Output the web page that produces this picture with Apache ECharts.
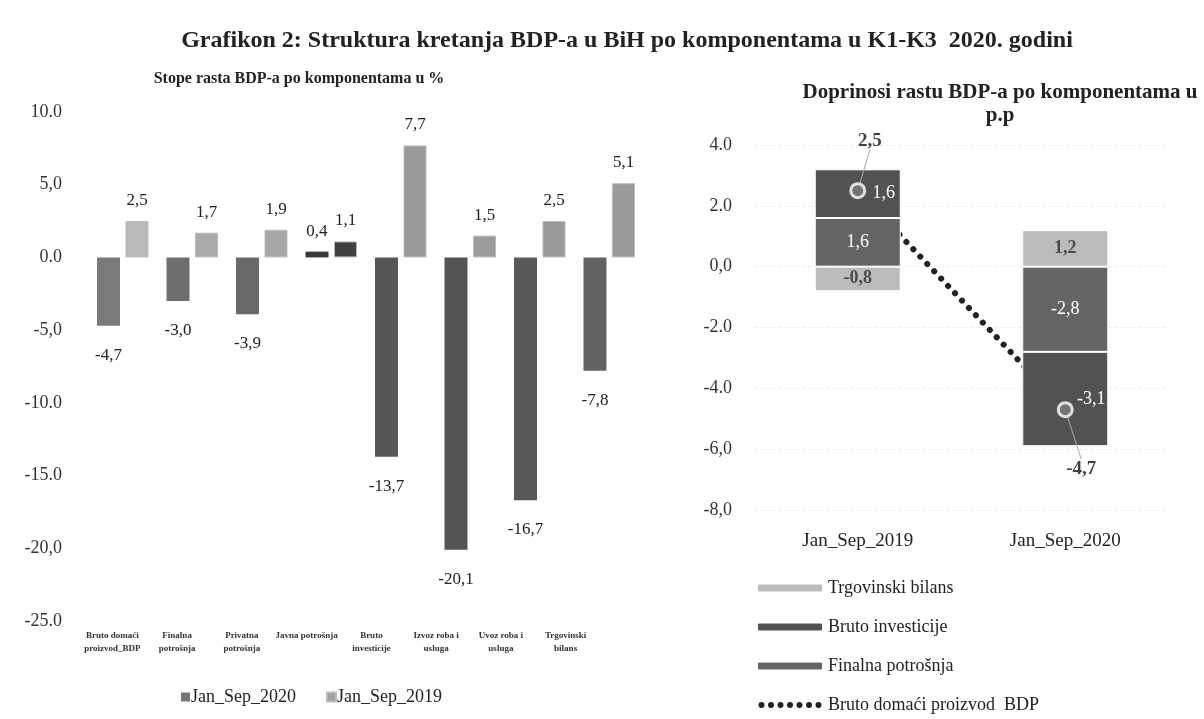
<!DOCTYPE html>
<html>
<head>
<meta charset="utf-8">
<title>Grafikon 2</title>
<script src="https://cdn.jsdelivr.net/npm/echarts@6/dist/echarts.min.js"></script>
<style>
	body{margin:0;background:#fff;}
	#chart{width:1204px;height:719px;}
</style>
</head>
<body>
<div id="chart"></div>
<script>
// lijevi grafikon - stope rasta u %
var categories = ['Bruto domaći\nproizvod_BDP', 'Finalna\npotrošnja', 'Privatna\npotrošnja', 'Javna potrošnja',
	'Bruto\ninvesticije', 'Izvoz roba i\nusluga', 'Uvoz roba i\nusluga', 'Trgovinski\nbilans'];
var growth2020 = [-4.7, -3.0, -3.9, 0.4, -13.7, -20.1, -16.7, -7.8];
var growth2019 = [2.5, 1.7, 1.9, 1.1, 7.7, 1.5, 2.5, 5.1];
var leftTicks = ['-25.0', '-20,0', '-15.0', '-10.0', '-5,0', '0.0', '5,0', '10.0'];

// desni grafikon - doprinosi rastu u p.p
var periods = ['Jan_Sep_2019', 'Jan_Sep_2020'];
var finalna = [1.6, -2.8];
var investicije = [1.6, -3.1];
var trgovinski = [-0.8, 1.2];
var bdp = [2.5, -4.7];
var rightTicks = ['-8,0', '-6,0', '-4.0', '-2.0', '0,0', '2.0', '4.0'];

var FONT = 'Liberation Serif';
var colors2020 = ['#7a7a7a', '#6e6e6e', '#686868', '#3a3a3a', '#575757', '#545454', '#585858', '#626262'];
var colors2019 = ['#b9b9b9', '#aaaaaa', '#a6a6a6', '#404040', '#9a9a9a', '#9c9c9c', '#9a9a9a', '#9a9a9a'];

function comma(v){
	return v.toFixed(1).replace('.', ',');
}

function barData(values, colors){
	var list = [];
	for (var i = 0; i < values.length; i++) {
		var neg = values[i] < 0;
		list.push({
			value: values[i],
			itemStyle: {color: colors[i]},
			label: {position: neg ? 'bottom' : 'top', distance: neg ? 21 : 12}
		});
	}
	return list;
}

// ikona legende: niz tacaka kao u originalu
function dotsIcon(){
	var p = 'path://M0,0M66,9';
	for (var k = 0; k < 7; k++) {
		var x = 1.5 + k * 9.5;
		p += 'M' + x + ',4.5a3,3 0 1,0 6,0a3,3 0 1,0 -6,0';
	}
	return p;
}

var chart = echarts.init(document.getElementById('chart'));

var barLabel = {
	show: true,
	fontFamily: FONT,
	fontSize: 17,
	color: '#222',
	formatter: function(p){ return comma(p.value); }
};

var option = {
	backgroundColor: '#ffffff',
	animation: false,
	title: [
		{
			text: 'Grafikon 2: Struktura kretanja BDP-a u BiH po komponentama u K1-K3  2020. godini',
			left: 622, textAlign: 'center', top: 24,
			textStyle: {fontFamily: FONT, fontSize: 24, fontWeight: 'bold', color: '#222'}
		},
		{
			text: 'Stope rasta BDP-a po komponentama u %',
			left: 294, textAlign: 'center', top: 66,
			textStyle: {fontFamily: FONT, fontSize: 16, fontWeight: 'bold', color: '#222'}
		},
		{
			text: 'Doprinosi rastu BDP-a po komponentama u\np.p',
			left: 995, textAlign: 'center', top: 76,
			textStyle: {fontFamily: FONT, fontSize: 21, fontWeight: 'bold', color: '#222', lineHeight: 23}
		}
	],
	legend: [
		{
			data: ['Jan_Sep_2020', 'Jan_Sep_2019'],
			left: 176, top: 683,
			icon: 'rect', itemWidth: 9, itemHeight: 9, itemGap: 30,
			textStyle: {fontFamily: FONT, fontSize: 18, color: '#222', padding: [0, 0, 0, -4]}
		},
		{
			data: [
				'Trgovinski bilans',
				'Bruto investicije',
				'Finalna potrošnja',
				{name: 'Bruto domaći proizvod  BDP', icon: dotsIcon()}
			],
			orient: 'vertical',
			left: 756, top: 579, padding: 0,
			itemWidth: 66, itemHeight: 9, itemGap: 21,
			textStyle: {fontFamily: FONT, fontSize: 18, color: '#222'}
		}
	],
	grid: [
		{left: 88, width: 556, top: 112, bottom: 98},
		{left: 754, width: 415, top: 145, bottom: 209},
		// samo za natpise kategorija
		{left: 80, width: 518, top: 112, bottom: 98}
	],
	xAxis: [
		{
			type: 'category', gridIndex: 0, data: categories,
			axisLine: {show: false, onZero: false}, axisTick: {show: false}, axisLabel: {show: false}
		},
		{
			type: 'category', gridIndex: 1, data: periods,
			axisLine: {show: false, onZero: false}, axisTick: {show: false},
			axisLabel: {fontFamily: FONT, fontSize: 19, color: '#222', margin: 22}
		},
		{
			type: 'category', gridIndex: 2, data: categories,
			axisLine: {show: false, onZero: false}, axisTick: {show: false},
			axisLabel: {fontFamily: FONT, fontSize: 9, fontWeight: 'bold', color: '#333', lineHeight: 13, margin: 8, interval: 0}
		}
	],
	yAxis: [
		{
			type: 'value', gridIndex: 0, min: -25, max: 10, interval: 5,
			splitLine: {show: false}, axisLine: {show: false}, axisTick: {show: false},
			axisLabel: {
				fontFamily: FONT, fontSize: 18, color: '#333', margin: 26,
				formatter: function(v){ return leftTicks[Math.round((v + 25) / 5)]; }
			}
		},
		{
			type: 'value', gridIndex: 1, min: -8, max: 4, interval: 2,
			splitLine: {show: true, lineStyle: {color: '#eeeeee', type: 'dashed'}},
			axisLine: {show: false}, axisTick: {show: false},
			axisLabel: {
				fontFamily: FONT, fontSize: 18, color: '#333', margin: 22,
				formatter: function(v){ return rightTicks[Math.round((v + 8) / 2)]; }
			}
		},
		{type: 'value', gridIndex: 2, show: false, min: -25, max: 10}
	],
	series: [
		{
			name: 'Jan_Sep_2020', type: 'bar', xAxisIndex: 0, yAxisIndex: 0,
			barWidth: 23, barGap: '24%',
			itemStyle: {color: '#777777'},
			label: barLabel,
			data: barData(growth2020, colors2020)
		},
		{
			name: 'Jan_Sep_2019', type: 'bar', xAxisIndex: 0, yAxisIndex: 0,
			barWidth: 23, barGap: '24%',
			itemStyle: {color: '#a0a0a0', borderColor: '#bbbbbb', borderWidth: 1},
			label: barLabel,
			data: barData(growth2019, colors2019)
		},
		{
			name: 'Finalna potrošnja', type: 'bar', xAxisIndex: 1, yAxisIndex: 1,
			stack: 'dop', barWidth: 86, z: 2,
			itemStyle: {color: '#646464', borderColor: '#ffffff', borderWidth: 1},
			label: {show: true, position: 'inside', fontFamily: FONT, fontSize: 18, color: '#ffffff',
				formatter: function(p){ return comma(p.value); }},
			data: finalna
		},
		{
			name: 'Bruto investicije', type: 'bar', xAxisIndex: 1, yAxisIndex: 1,
			stack: 'dop', barWidth: 86, z: 2,
			itemStyle: {color: '#525252', borderColor: '#ffffff', borderWidth: 1},
			label: {show: true, position: 'inside', offset: [26, 0], fontFamily: FONT, fontSize: 18, color: '#ffffff',
				formatter: function(p){ return comma(p.value); }},
			data: investicije
		},
		{
			name: 'Trgovinski bilans', type: 'bar', xAxisIndex: 1, yAxisIndex: 1,
			stack: 'dop', barWidth: 86, z: 2,
			itemStyle: {color: '#bbbbbb', borderColor: '#ffffff', borderWidth: 1},
			label: {show: true, position: 'inside', fontFamily: FONT, fontSize: 18, fontWeight: 'bold', color: '#4a4a4a',
				formatter: function(p){ return comma(p.value); }},
			data: trgovinski
		},
		{
			name: 'Bruto domaći proizvod  BDP', type: 'line', xAxisIndex: 1, yAxisIndex: 1,
			z: 1, symbol: 'none',
			itemStyle: {color: '#222222'},
			lineStyle: {color: '#222222', width: 6, type: [0.1, 10], cap: 'round'},
			data: bdp
		},
		{
			// oznake BDP tacaka iznad stubaca
			name: 'bdp_marker', type: 'scatter', xAxisIndex: 1, yAxisIndex: 1,
			z: 3, symbol: 'circle', symbolSize: 14,
			itemStyle: {color: 'rgba(255,255,255,0.25)', borderColor: '#ffffff', borderWidth: 3},
			label: {
				show: true, fontFamily: FONT, fontSize: 19, fontWeight: 'bold', color: '#111',
				position: 'top', distance: 5,
				formatter: function(p){ return comma(p.value); }
			},
			labelLine: {show: true, lineStyle: {color: '#aaaaaa', width: 1}},
			labelLayout: function(p){
				return p.dataIndex == 0 ? {dx: 12, dy: -27} : {dx: 16, dy: 82};
			},
			data: bdp
		}
	]
};

chart.setOption(option);
</script>
</body>
</html>
